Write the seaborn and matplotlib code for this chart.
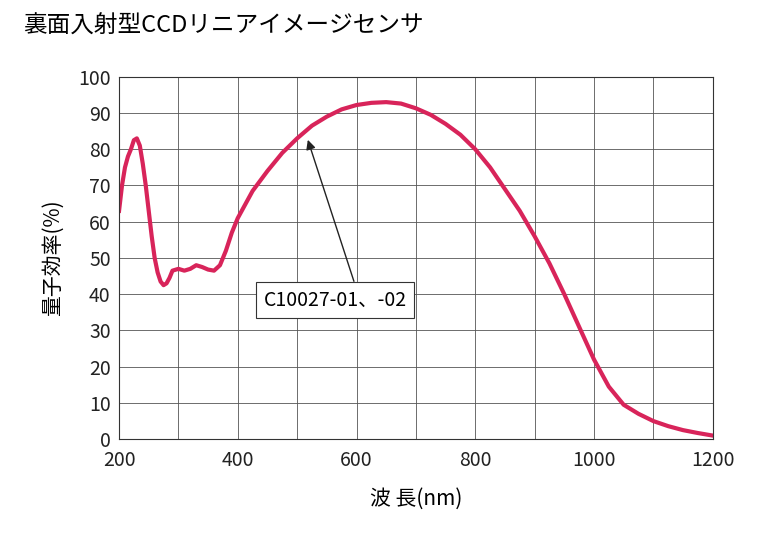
import numpy as np
import pandas as pd
import matplotlib
matplotlib.use("Agg")
import matplotlib.pyplot as plt
import seaborn as sns

wavelength = [200, 205, 210, 215, 220, 225, 230, 235, 240, 245, 250, 255, 260, 265, 270,
              275, 280, 285, 290, 300, 310, 320, 330, 340, 350, 360, 370, 380, 390,
              400, 425, 450, 475, 500, 525, 550, 575, 600, 625, 650, 675, 700, 725,
              750, 775, 800, 825, 850, 875, 900, 925, 950, 975, 1000, 1025, 1050,
              1075, 1100, 1125, 1150, 1175, 1200]
qe = [63, 70, 75, 78, 80, 82.5, 83, 81, 76, 70, 63, 56, 50, 46, 43.5,
      42.5, 43, 44.5, 46.5, 47, 46.5, 47, 48, 47.5, 46.8, 46.5, 48, 52, 57,
      61, 68.5, 74, 79, 83, 86.5, 89, 91, 92.2, 92.8, 93, 92.6, 91.3, 89.5,
      87, 84, 80, 75, 69, 63, 56, 48.5, 40, 31, 22, 14.5, 9.5,
      7, 5, 3.6, 2.5, 1.7, 1]

df = pd.DataFrame({"wl": wavelength, "qe": qe})

plt.rcParams["font.family"] = ["Noto Sans CJK JP", "DejaVu Sans"]
fig = plt.figure(figsize=(7.68, 5.33), dpi=100)
ax = fig.add_axes([0.155, 0.176, 0.773, 0.68])

sns.lineplot(data=df, x="wl", y="qe", ax=ax, color="#d8245a", linewidth=3)

ax.set_xlim(200, 1200)
ax.set_ylim(0, 100)
ax.set_xticks(range(200, 1201, 200))
ax.set_xticks(range(200, 1201, 100), minor=True)
ax.set_yticks(range(0, 101, 10))
ax.grid(True, which="both", color="#555555", linewidth=0.6)
ax.tick_params(which="both", length=0, labelsize=14, colors="#222222")
ax.tick_params(axis="x", pad=8)
ax.tick_params(axis="y", pad=6)
for s in ax.spines.values():
    s.set_color("#333333")
ax.set_xlabel("波 長(nm)", fontsize=15, labelpad=12)
ax.set_ylabel("量子効率(%)", fontsize=15, labelpad=10)

ax.annotate("C10027-01、-02", xy=(518, 82.6), xytext=(564, 38.4),
            fontsize=14, ha="center", va="center",
            bbox=dict(boxstyle="square,pad=0.4", fc="white", ec="#333333", lw=0.8),
            arrowprops=dict(arrowstyle="-|>", color="#222222", lw=1,
                            relpos=(0.65, 1.0), shrinkA=0, shrinkB=0))

fig.text(0.03, 0.95, "裏面入射型CCDリニアイメージセンサ", fontsize=17, va="center")

fig.savefig("out.png", dpi=100, facecolor="white")
